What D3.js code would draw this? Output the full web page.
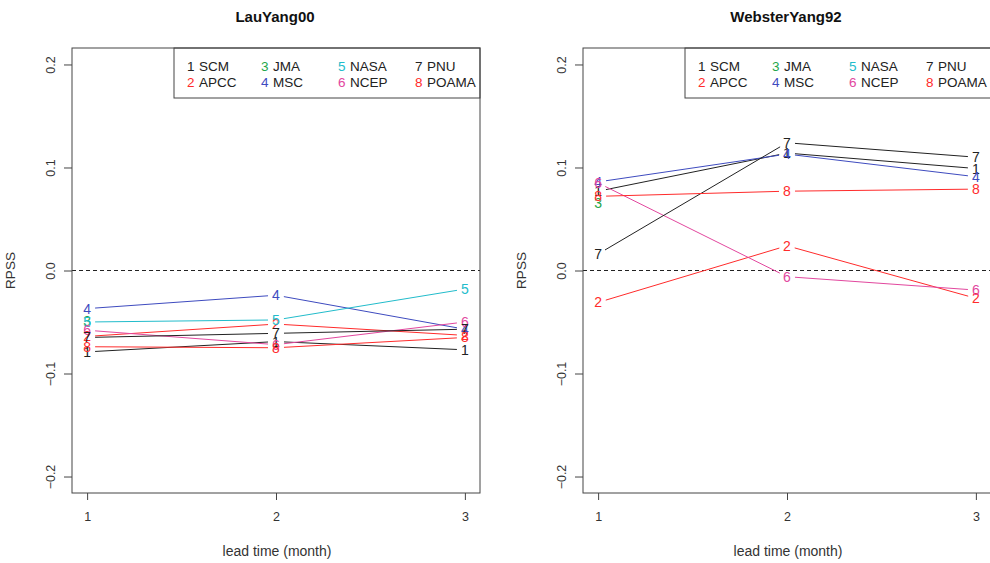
<!DOCTYPE html>
<html>
<head>
<meta charset="utf-8">
<script src="https://cdn.jsdelivr.net/npm/d3@7"></script>
<style>
  html, body { margin: 0; padding: 0; background: #fff; }
  svg { display: block; font-family: "Liberation Sans", Arial, Helvetica, sans-serif; }
</style>
</head>
<body>
<svg id="chart" width="990" height="563"></svg>
<script>
// Models (legend order) and their colours
const modelIds = ["1", "2", "3", "4", "5", "6", "7", "8"];
const modelNames = ["SCM", "APCC", "JMA", "MSC", "NASA", "NCEP", "PNU", "POAMA"];
const modelColors = ["#222222", "#FF2B2B", "#1FA64A", "#3E4BBF", "#22BCCB", "#E2479E", "#222222", "#FF2B2B"];

// Lead times (months) and axis ticks
const leadTimes = [1, 2, 3];
const yTicks = [-0.2, -0.1, 0.0, 0.1, 0.2];

// RPSS per model at lead 1..3 (null = no forecast)
const lauYang00 = [
  [-0.079, -0.069, -0.077],
  [-0.064, -0.052, -0.063],
  [-0.049, null, null],
  [-0.037, -0.024, -0.057],
  [-0.050, -0.048, -0.018],
  [-0.058, -0.072, -0.050],
  [-0.065, -0.061, -0.057],
  [-0.074, -0.075, -0.065]
];
const websterYang92 = [
  [0.077, 0.114, 0.099],
  [-0.031, 0.024, -0.027],
  [0.066, null, null],
  [0.086, 0.113, 0.091],
  [null, null, null],
  [0.085, -0.006, -0.019],
  [0.016, 0.124, 0.110],
  [0.072, 0.077, 0.079]
];

const panels = [
  { title: "LauYang00", data: lauYang00, left: 72 },
  { title: "WebsterYang92", data: websterYang92, left: 583 }
];

const svg = d3.select("#chart");
const plotW = 408, plotTop = 48, plotH = 445;
const frameColor = "#444";
const textColor = "#333";

panels.forEach(p => {
  const g = svg.append("g").attr("transform", `translate(${p.left},${plotTop})`);

  // R-style 4% padding on both axes
  const x = d3.scaleLinear().domain([0.92, 3.08]).range([0, plotW]);
  const y = d3.scaleLinear().domain([-0.216, 0.216]).range([plotH, 0]);

  // title
  svg.append("text")
    .attr("x", p.left + plotW / 2 - 1).attr("y", 22)
    .attr("text-anchor", "middle")
    .attr("font-size", 15).attr("font-weight", "bold").attr("fill", "#111")
    .text(p.title);

  // x axis
  const xAxis = g.append("g").attr("transform", `translate(0,${plotH})`)
    .call(d3.axisBottom(x).tickValues(leadTimes).tickFormat(d3.format("d")).tickSize(7).tickPadding(12));
  xAxis.select(".domain").remove();
  xAxis.selectAll("line").attr("stroke", frameColor);
  xAxis.selectAll("text").attr("font-size", 12.5).attr("fill", textColor);

  // y axis with rotated labels
  const yAxis = g.append("g")
    .call(d3.axisLeft(y).tickValues(yTicks).tickFormat(d3.format(".1f")).tickSize(8));
  yAxis.select(".domain").remove();
  yAxis.selectAll("line").attr("stroke", frameColor);
  yAxis.selectAll("text")
    .attr("font-size", 12.5).attr("fill", textColor)
    .attr("x", null).attr("dy", null)
    .attr("text-anchor", "middle")
    .attr("transform", "translate(-21,0) rotate(-90)")
    .attr("dy", "0.35em");

  // axis titles
  svg.append("text")
    .attr("x", p.left + plotW / 2 + 1).attr("y", 556)
    .attr("text-anchor", "middle").attr("font-size", 14).attr("fill", textColor)
    .text("lead time (month)");
  svg.append("text")
    .attr("transform", `translate(${p.left - 57},${plotTop + y(0)}) rotate(-90)`)
    .attr("text-anchor", "middle").attr("font-size", 13.5).attr("fill", textColor)
    .text("RPSS");

  // zero reference line
  g.append("line")
    .attr("x1", 0).attr("x2", plotW)
    .attr("y1", y(0)).attr("y2", y(0))
    .attr("stroke", "#222").attr("stroke-width", 1)
    .attr("stroke-dasharray", "4,3");

  // series: segments with gaps around the digit markers, then the digits
  const gap = 8;
  p.data.forEach((vals, i) => {
    const col = modelColors[i];
    for (let k = 0; k < vals.length - 1; k++) {
      if (vals[k] == null || vals[k + 1] == null) continue;
      const x1 = x(leadTimes[k]), y1 = y(vals[k]);
      const x2 = x(leadTimes[k + 1]), y2 = y(vals[k + 1]);
      const len = Math.hypot(x2 - x1, y2 - y1);
      if (len <= 2 * gap) continue;
      const ux = (x2 - x1) / len, uy = (y2 - y1) / len;
      g.append("line")
        .attr("x1", x1 + ux * gap).attr("y1", y1 + uy * gap)
        .attr("x2", x2 - ux * gap).attr("y2", y2 - uy * gap)
        .attr("stroke", col).attr("stroke-width", 1);
    }
    vals.forEach((v, k) => {
      if (v == null) return;
      g.append("text")
        .attr("x", x(leadTimes[k])).attr("y", y(v))
        .attr("dy", "0.36em").attr("text-anchor", "middle")
        .attr("font-size", 14).attr("fill", col)
        .text(modelIds[i]);
    });
  });

  // legend
  const lg = g.append("g").attr("transform", `translate(${plotW - 306},0)`);
  lg.append("rect").attr("x", 0).attr("y", 0).attr("width", 306).attr("height", 50)
    .attr("fill", "#fff").attr("stroke", frameColor).attr("stroke-width", 1);
  const colX = [13, 87, 164, 241];
  modelIds.forEach((id, i) => {
    const c = Math.floor(i / 2), r = i % 2;
    const row = lg.append("g").attr("transform", `translate(${colX[c]},${18 + r * 16})`);
    row.append("text").attr("x", 0).attr("dy", "0.35em").attr("font-size", 13.5)
      .attr("fill", modelColors[i]).text(id);
    row.append("text").attr("x", 12).attr("dy", "0.35em").attr("font-size", 13.5)
      .attr("fill", "#222").text(modelNames[i]);
  });

  // plot frame
  g.append("rect").attr("x", 0).attr("y", 0).attr("width", plotW).attr("height", plotH)
    .attr("fill", "none").attr("stroke", frameColor).attr("stroke-width", 1);
});
</script>
</body>
</html>
